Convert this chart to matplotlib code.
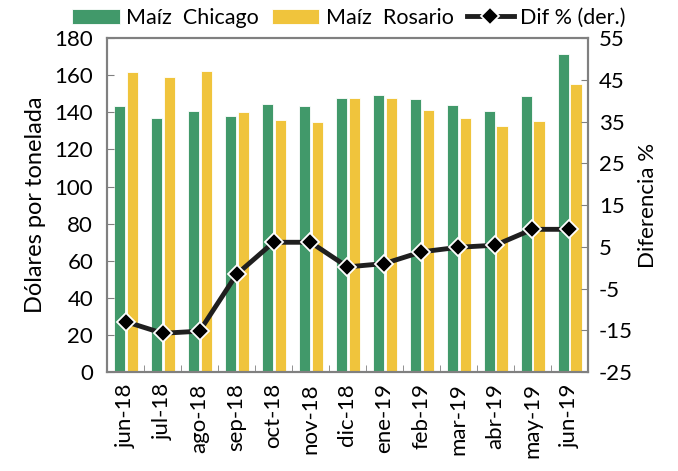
import matplotlib
matplotlib.use("Agg")
import matplotlib.pyplot as plt
import numpy as np

categories = ["jun-18", "jul-18", "ago-18", "sep-18", "oct-18", "nov-18", "dic-18",
              "ene-19", "feb-19", "mar-19", "abr-19", "may-19", "jun-19"]
chicago = [143.3, 137.2, 140.6, 138.3, 144.6, 143.3, 147.8, 149.6, 147.3, 144.0, 140.6, 149.0, 171.2]
rosario = [161.6, 159.0, 162.2, 140.1, 135.8, 134.7, 147.8, 147.8, 141.2, 136.9, 132.4, 135.2, 155.2]
dif = [-12.9, -15.7, -15.2, -1.6, 6.1, 6.1, 0.2, 1.0, 3.8, 4.9, 5.4, 9.2, 9.2]

plt.rcParams['font.family'] = ['Lato', 'DejaVu Sans']
plt.rcParams['axes.unicode_minus'] = False

green = "#41996A"
yellow = "#F0C43C"
spine_c = "#808080"

fig = plt.figure(figsize=(6.78, 4.71), dpi=100)
ax = fig.add_axes([0.158, 0.210, 0.709, 0.709])
x = np.arange(len(categories))
w = 0.30
b1 = ax.bar(x - 0.17, chicago, w, color=green, edgecolor="white", linewidth=0.6, label="Maíz  Chicago")
b2 = ax.bar(x + 0.18, rosario, w, color=yellow, edgecolor="white", linewidth=0.6, label="Maíz  Rosario")
ax.set_xlim(-0.5, len(categories) - 0.5)
ax.set_ylim(0, 180)
ax.set_yticks(np.arange(0, 181, 20))
ax.set_xticks(x)
ax.set_xticklabels(categories, rotation=90, fontsize=16)
ax.set_xticks(np.arange(0.5, len(categories) - 0.5, 1), minor=True)
ax.tick_params(axis='x', which='major', length=0, pad=8)
ax.tick_params(axis='x', which='minor', length=5, direction='in', color=spine_c)
ax.tick_params(axis='y', direction='in', length=5, color=spine_c, labelsize=16, pad=10)
ax.set_ylabel("Dólares por tonelada", fontsize=17, labelpad=6)
for s in ax.spines.values():
    s.set_color(spine_c)
    s.set_linewidth(1.5)

ax2 = ax.twinx()
l, = ax2.plot(x, dif, color="#1f1f1f", linewidth=3.5, marker="D", markersize=9,
              markerfacecolor="black", markeredgecolor="white", markeredgewidth=1.3,
              label="Dif % (der.)", zorder=5)
ax2.set_ylim(-25, 55)
ax2.set_yticks(np.arange(-25, 56, 10))
ax2.tick_params(axis='y', direction='in', length=5, color=spine_c, labelsize=16, pad=8)
ax2.set_ylabel("Diferencia %", fontsize=16, labelpad=4)
for s in ax2.spines.values():
    s.set_color(spine_c)
    s.set_linewidth(1.5)

fig.legend(handles=[b1, b2, l], loc="upper center", bbox_to_anchor=(0.515, 1.025), ncol=3,
           frameon=False, fontsize=15.5, handlelength=2.2, handleheight=0.7,
           columnspacing=0.6, handletextpad=0.3)

fig.savefig("out.png", dpi=100)
